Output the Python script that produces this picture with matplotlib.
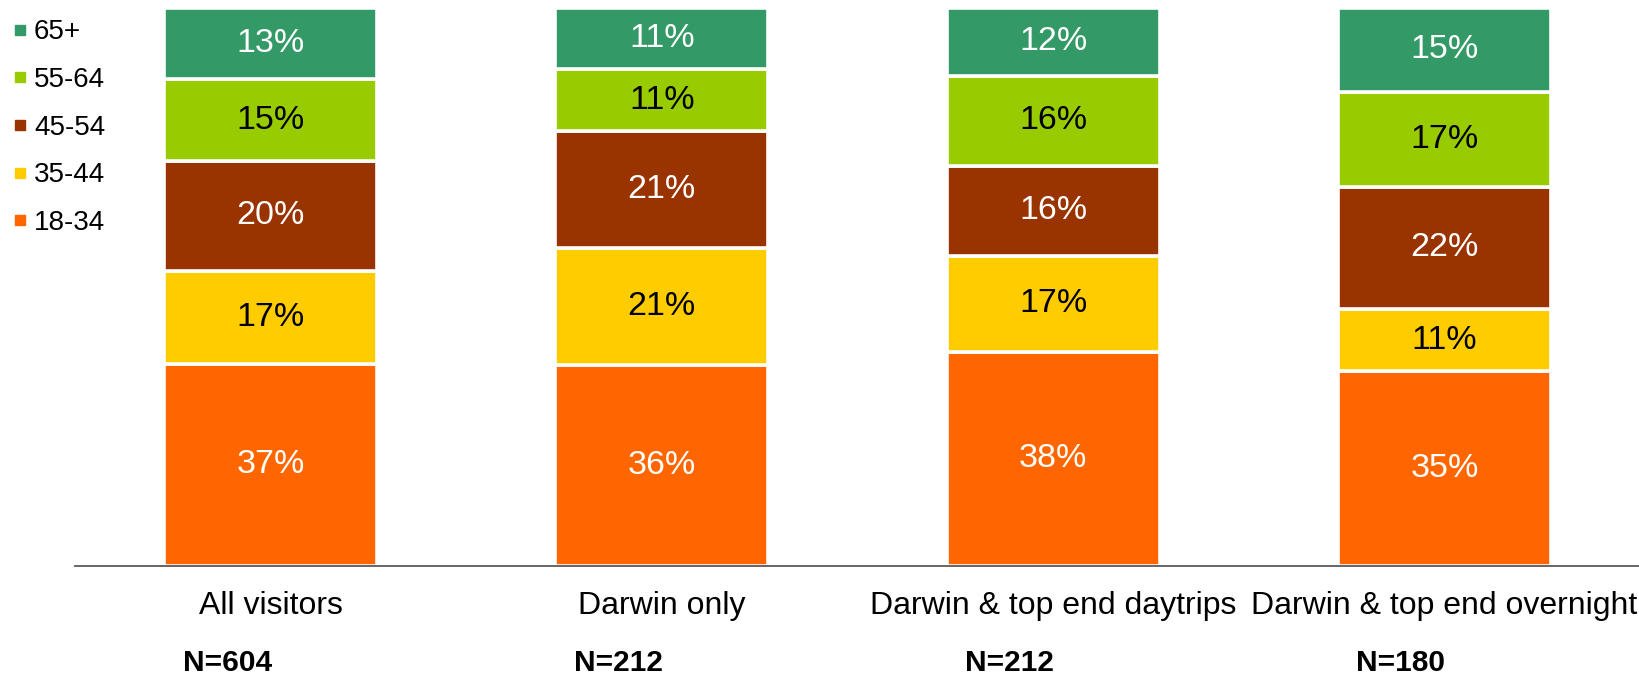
import matplotlib
matplotlib.use("Agg")
import matplotlib.pyplot as plt
from matplotlib.lines import Line2D
import numpy as np

plt.rcParams['font.family'] = ['Liberation Sans', 'DejaVu Sans']

categories = ["All visitors", "Darwin only", "Darwin & top end daytrips", "Darwin & top end overnight"]
sample_sizes = ["N=604", "N=212", "N=212", "N=180"]
age_groups = ["18-34", "35-44", "45-54", "55-64", "65+"]
age_18_34 = [37, 36, 38, 35]
age_35_44 = [17, 21, 17, 11]
age_45_54 = [20, 21, 16, 22]
age_55_64 = [15, 11, 16, 17]
age_65_plus = [13, 11, 12, 15]

series = [age_18_34, age_35_44, age_45_54, age_55_64, age_65_plus]
colors = ["#FF6600", "#FFCC00", "#993300", "#99CC00", "#339966"]
text_colors = ["white", "black", "white", "black", "white"]

vals = np.array(series, dtype=float)
totals = vals.sum(axis=0)
shares = vals / totals * 100.0

fig = plt.figure(figsize=(16.4, 6.75), dpi=100)
ax = fig.add_axes([75 / 1640, 1 - 566 / 675, 1 - 75 / 1640, (566 - 8) / 675])

x = np.arange(len(categories))
width = 0.545
bottom = np.zeros(len(categories))
for i, (s, c, tc) in enumerate(zip(shares, colors, text_colors)):
    ax.bar(x, s, width, bottom=bottom, color=c, edgecolor="white", linewidth=2.6, zorder=2)
    for j in range(len(categories)):
        ax.text(x[j], bottom[j] + s[j] / 2, f"{int(vals[i, j])}%", ha="center", va="center",
                color=tc, fontsize=24.5)
    bottom += s

ax.set_xlim(-0.5, 3.5)
ax.set_ylim(0, 100)
for sp in ["top", "left", "right"]:
    ax.spines[sp].set_visible(False)
ax.spines["bottom"].set_color("#595959")
ax.spines["bottom"].set_linewidth(1.3)
ax.set_yticks([])
ax.set_xticks(x)
ax.set_xticklabels(categories, fontsize=23)
ax.tick_params(axis="x", length=0, pad=18)

for j, n in enumerate(sample_sizes):
    ax.text(x[j] - 0.225, -17.4, n, ha="left", va="center", fontsize=21.5, fontweight="bold",
            transform=ax.transData, clip_on=False)

handles = [Line2D([0], [0], marker="s", linestyle="none", markersize=7, markerfacecolor=c,
                  markeredgecolor=c) for c in colors]
leg = fig.legend(handles[::-1], age_groups[::-1], loc="upper left", bbox_to_anchor=(-0.003, 0.996),
                 frameon=False, fontsize=20, handlelength=0.6, handletextpad=0.2,
                 labelspacing=0.78, borderaxespad=0.2)

fig.savefig("out.png", dpi=100)
